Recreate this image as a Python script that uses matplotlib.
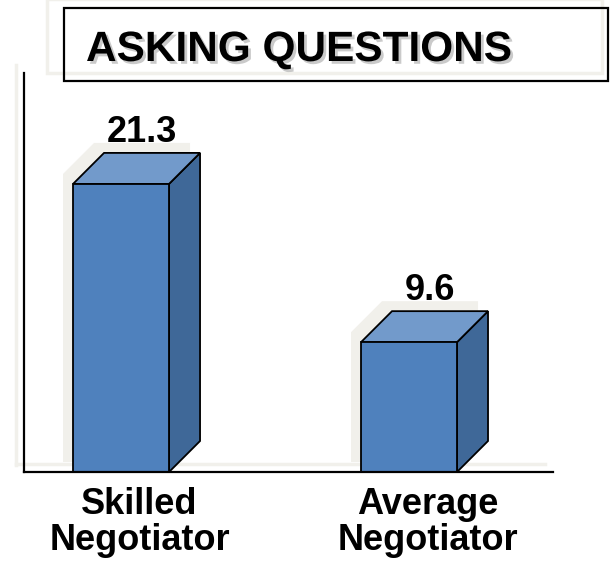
import matplotlib
matplotlib.use("Agg")
import matplotlib.pyplot as plt
from matplotlib.patches import Polygon, Rectangle
from matplotlib.lines import Line2D
import matplotlib.transforms as mtransforms
import matplotlib.patheffects as pe

# ---- data ----
title = "ASKING QUESTIONS"
categories = ["Skilled\nNegotiator", "Average\nNegotiator"]
values = [21.3, 9.6]
value_labels = ["21.3", "9.6"]

# ---- style ----
W, H, DPI = 612, 565, 100
FONT = ["Liberation Sans", "DejaVu Sans"]
C_FRONT = "#4F81BD"
C_TOP = "#729ACB"
C_SIDE = "#3F6898"
C_BEIGE = "#F1F0EB"

fig = plt.figure(figsize=(W / DPI, H / DPI), dpi=DPI)
fig.patch.set_facecolor("white")

def fx(x):
    return x / W

def fy(y_top):
    return 1 - y_top / H

# axes placed in pixels: left 24, right 553, top 73, bottom 472
ax_l, ax_r, ax_t, ax_b = 24, 553, 73, 472
ax = fig.add_axes([fx(ax_l), fy(ax_b), (ax_r - ax_l) / W, (ax_b - ax_t) / H])
ax.set_facecolor("none")

xlim = (-0.337, 1.5)
ylim = (0, 29.5)
ax.set_xlim(*xlim)
ax.set_ylim(*ylim)
for s in ["top", "right"]:
    ax.spines[s].set_visible(False)
for s in ["left", "bottom"]:
    ax.spines[s].set_linewidth(1.6)
    ax.spines[s].set_color("black")
    ax.spines[s].set_zorder(5)
ax.set_xticks([])
ax.set_yticks([])

px_x = (ax_r - ax_l) / (xlim[1] - xlim[0])
px_y = (ax_b - ax_t) / (ylim[1] - ylim[0])
depth_px = 31
dx = depth_px / px_x
dy = depth_px / px_y
bw = 96 / px_x

# faint beige shadow of axes
fig.add_artist(Line2D([fx(16), fx(16)], [fy(65), fy(465)], color=C_BEIGE, lw=2.5, zorder=0))
fig.add_artist(Line2D([fx(16), fx(545)], [fy(464), fy(464)], color=C_BEIGE, lw=2.5, zorder=0))

shadow_tr = mtransforms.offset_copy(ax.transData, fig=fig, x=-10, y=10, units="dots")

positions = list(range(len(values)))
for xc, v, lab in zip(positions, values, value_labels):
    xl, xr = xc - bw / 2, xc + bw / 2
    # beige shadow silhouette
    sil = [(xl, 0), (xl, v), (xl + dx, v + dy), (xr + dx, v + dy), (xr + dx, dy), (xr, 0)]
    ax.add_patch(Polygon(sil, closed=True, facecolor=C_BEIGE, edgecolor="none",
                         transform=shadow_tr, zorder=1))
    # side
    side = [(xr, 0), (xr + dx, dy), (xr + dx, v + dy), (xr, v)]
    ax.add_patch(Polygon(side, closed=True, facecolor=C_SIDE, edgecolor="black",
                         lw=1.3, joinstyle="miter", zorder=3))
    top = [(xl, v), (xl + dx, v + dy), (xr + dx, v + dy), (xr, v)]
    ax.add_patch(Polygon(top, closed=True, facecolor=C_TOP, edgecolor="black",
                         lw=1.3, joinstyle="miter", zorder=3))
    ax.add_patch(Rectangle((xl, 0), bw, v, facecolor=C_FRONT, edgecolor="black",
                           lw=1.3, joinstyle="miter", zorder=4))
    # value label
    ax.text(xc + dx / 2 + 5 / px_x, v + dy + 11 / px_y, lab, ha="center", va="baseline",
            fontsize=26, fontweight="bold", family=FONT, color="black", zorder=6)

# category labels below axis
for xc, cat in zip(positions, categories):
    ax.text(xc + dx / 2 + 3 / px_x, -15 / px_y, cat, ha="center", va="top", fontsize=26,
            fontweight="bold", family=FONT, color="black", linespacing=1.05,
            clip_on=False)

# title box
fig.add_artist(Rectangle((fx(47), fy(73)), fx(602) - fx(47), fy(-1) - fy(73),
                         transform=fig.transFigure, facecolor="none", edgecolor=C_BEIGE,
                         lw=2.5, zorder=1))
fig.add_artist(Rectangle((fx(64), fy(81)), fx(608) - fx(64), fy(8) - fy(81),
                         transform=fig.transFigure, facecolor="none", edgecolor="black",
                         lw=1.6, zorder=2))
fig.text(fx(86), fy(61), title, ha="left", va="baseline", fontsize=30.5,
         fontweight="bold", family=FONT, color="black", zorder=4,
         path_effects=[pe.withSimplePatchShadow(offset=(2, -2), shadow_rgbFace="#8a8a8a",
                                                alpha=0.45)])

fig.savefig("out.png", dpi=DPI)
